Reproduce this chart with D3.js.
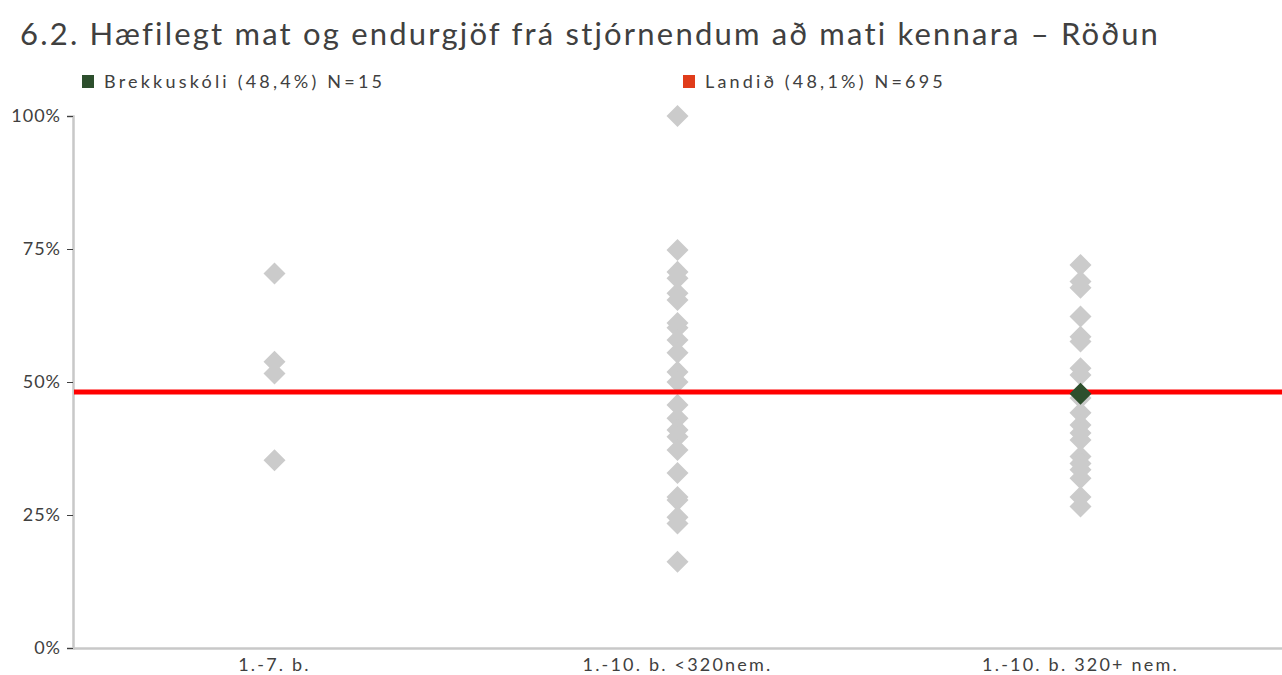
<!DOCTYPE html>
<html><head><meta charset="utf-8">
<script src="https://cdn.jsdelivr.net/npm/d3@7"></script>
<style>
html,body{margin:0;padding:0;background:#fff;}
svg{display:block;font-family:"Lato","Open Sans",sans-serif;}
</style></head>
<body><svg id="c" width="1282" height="675"></svg>
<script>
const title = "6.2. Hæfilegt mat og endurgjöf frá stjórnendum að mati kennara – Röðun";
const categories = ["1.-7. b.", "1.-10. b. <320nem.", "1.-10. b. 320+ nem."];
const yTicks = [0, 0.25, 0.5, 0.75, 1];
const yTickLabels = ["0%", "25%", "50%", "75%", "100%"];
const grp1Values = [0.704, 0.538, 0.516, 0.353];
const grp2Values = [1.0, 0.748, 0.707, 0.695, 0.667, 0.654, 0.611, 0.602, 0.579, 0.555, 0.519, 0.50, 0.457, 0.432, 0.410, 0.397, 0.372, 0.329, 0.284, 0.278, 0.246, 0.234, 0.162];
const grp3Values = [0.720, 0.689, 0.677, 0.623, 0.585, 0.576, 0.526, 0.513, 0.470, 0.442, 0.419, 0.404, 0.391, 0.360, 0.347, 0.335, 0.319, 0.284, 0.266];
const schoolCategory = "1.-10. b. 320+ nem.";
const schoolValue = 0.478;
const nationalValue = 0.481;
const legendLabels = ["Brekkuskóli (48,4%) N=15", "Landið (48,1%) N=695"];

(function () {
const svg = d3.select("#c");
const mLeft = 73, mRight = 1282, mTop = 116, mBottom = 648;
const x = d3.scaleBand().domain(categories).range([mLeft, mRight]);
const y = d3.scaleLinear().domain([0, 1]).range([mBottom, mTop]);

svg.append("text").attr("x", 20).attr("y", 45).attr("font-size", 31).attr("fill", "#404040")
  .attr("letter-spacing", "2.2px").text(title);

// legend
const legColors = ["#2d4f2d", "#e03c1a"];
const legX = [82, 683];
legendLabels.forEach((l, i) => {
  svg.append("rect").attr("x", legX[i]).attr("y", 75).attr("width", 12).attr("height", 13).attr("fill", legColors[i]);
  svg.append("text").attr("x", legX[i] + 22).attr("y", 88).attr("font-size", 18).attr("fill", "#404040").attr("letter-spacing","3.2px").text(l);
});

// axes
const yAxis = svg.append("g").attr("transform", `translate(${mLeft},0)`)
  .call(d3.axisLeft(y).tickValues(yTicks).tickFormat((d, i) => yTickLabels[i]).tickSize(6).tickPadding(6));
yAxis.select(".domain").attr("stroke", "#c8c8c8").attr("stroke-width", 2.5);
yAxis.selectAll(".tick line").attr("stroke", "#404040");
yAxis.selectAll(".tick text").attr("font-size", 18).attr("fill", "#404040").attr("font-family", "Lato, sans-serif").attr("letter-spacing","1px");

const xAxis = svg.append("g").attr("transform", `translate(0,${mBottom})`)
  .call(d3.axisBottom(x).tickSize(0).tickPadding(10));
xAxis.select(".domain").attr("stroke", "#c8c8c8").attr("stroke-width", 2.5);
xAxis.selectAll(".tick text").attr("font-size", 18).attr("fill", "#404040").attr("font-family", "Lato, sans-serif").attr("letter-spacing","2.2px");

// diamonds
const diamond = d3.symbol().type(d3.symbolDiamond2).size(310);
const groups = [grp1Values, grp2Values, grp3Values];
groups.forEach((vals, gi) => {
  svg.append("g").selectAll("path").data(vals).join("path")
    .attr("d", diamond)
    .attr("transform", d => `translate(${x(categories[gi]) + x.bandwidth() / 2},${y(d)})`)
    .attr("fill", "#cbcbcb");
});

// national line
svg.append("line").attr("x1", mLeft + 1).attr("x2", mRight).attr("y1", y(nationalValue)).attr("y2", y(nationalValue))
  .attr("stroke", "#ff0000").attr("stroke-width", 5);

// school diamond
svg.append("path").attr("d", diamond)
  .attr("transform", `translate(${x(schoolCategory) + x.bandwidth() / 2},${y(schoolValue)})`)
  .attr("fill", "#2d4f2d");
})();
</script></body></html>
